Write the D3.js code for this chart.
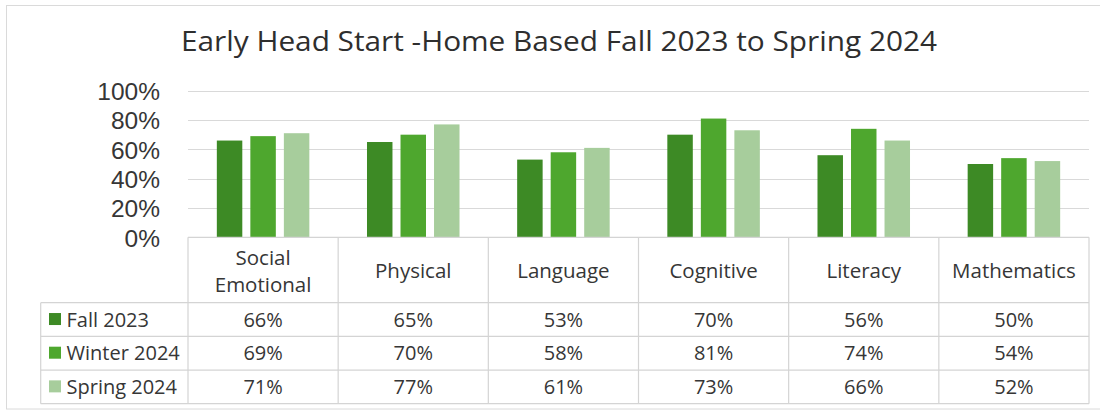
<!DOCTYPE html>
<html>
<head>
<meta charset="utf-8">
<script src="https://cdn.jsdelivr.net/npm/d3@7"></script>
<style>
  html, body { margin: 0; padding: 0; background: #ffffff; }
  svg { display: block; }
  text { font-family: "Open Sans", "Noto Sans", sans-serif; fill: #363636; }
</style>
</head>
<body>
<svg id="chart" width="1100" height="412"></svg>
<script>
const title = "Early Head Start -Home Based Fall 2023 to Spring 2024";
const categories = ["Social Emotional", "Physical", "Language", "Cognitive", "Literacy", "Mathematics"];
const categoryLines = [["Social", "Emotional"], ["Physical"], ["Language"], ["Cognitive"], ["Literacy"], ["Mathematics"]];
const seriesNames = ["Fall 2023", "Winter 2024", "Spring 2024"];
const fall2023 = [0.66, 0.65, 0.53, 0.70, 0.56, 0.50];
const winter2024 = [0.69, 0.70, 0.58, 0.81, 0.74, 0.54];
const spring2024 = [0.71, 0.77, 0.61, 0.73, 0.66, 0.52];
const yTicks = [0, 0.2, 0.4, 0.6, 0.8, 1.0];
const colors = ["#3d8a25", "#4ea72e", "#a7cd9c"];

const seriesValues = [fall2023, winter2024, spring2024];

const svg = d3.select("#chart");
const gridColor = "#d9d9d9";
const tableColor = "#d4d4d4";

// card border
svg.append("rect")
  .attr("x", 6.5).attr("y", 5.5)
  .attr("width", 1100).attr("height", 403.5)
  .attr("fill", "#fff").attr("stroke", "#dadada").attr("stroke-width", 1);

// title
svg.append("text")
  .attr("x", 181).attr("y", 50.5)
  .attr("text-anchor", "start")
  .attr("textLength", 756)
  .attr("lengthAdjust", "spacingAndGlyphs")
  .style("font-size", "26.5px")
  .style("fill", "#2e2e2e")
  .text(title);

const x0 = d3.scaleBand().domain(categories).range([188, 1089]).paddingInner(0).paddingOuter(0);
const x1 = d3.scaleBand().domain(seriesNames).range([0, x0.bandwidth()]).paddingInner(0.24).paddingOuter(0.86);
const y = d3.scaleLinear().domain([0, 1]).range([237.3, 90.7]);

// gridlines
svg.append("g")
  .selectAll("line")
  .data(yTicks.filter(t => t > 0))
  .join("line")
  .attr("x1", 188).attr("x2", 1089)
  .attr("y1", d => Math.round(y(d)) + 0.5).attr("y2", d => Math.round(y(d)) + 0.5)
  .attr("stroke", gridColor).attr("stroke-width", 1.2);

// y axis labels
const yAxis = d3.axisLeft(y).tickValues(yTicks).tickFormat(d3.format(".0%")).tickSize(0).tickPadding(0);
const yg = svg.append("g").attr("transform", "translate(160,0)").call(yAxis);
yg.select(".domain").remove();
yg.selectAll("text")
  .style("font-size", "24.5px")
  .style("fill", "#363636")
  .style("font-family", '"Liberation Sans", Arial, sans-serif')
  .attr("dy", "0.36em");

// bars
const groups = svg.append("g").selectAll("g")
  .data(categories)
  .join("g")
  .attr("transform", d => `translate(${x0(d)},0)`);

groups.selectAll("rect")
  .data((d, i) => seriesNames.map((s, j) => ({ s, v: seriesValues[j][i], j })))
  .join("rect")
  .attr("x", d => x1(d.s))
  .attr("width", x1.bandwidth())
  .attr("y", d => y(d.v))
  .attr("height", d => y(0) - y(d.v))
  .attr("fill", d => colors[d.j]);

// data table
const tableTop = y(0);
const headerBottom = 302.7;
const rowH = (403.7 - headerBottom) / 3;
const tableLeft = 40.7;
const tRight = 1089;

const tg = svg.append("g").attr("stroke", tableColor).attr("stroke-width", 1.2).attr("fill", "none");
tg.append("line").attr("x1", 188).attr("x2", tRight).attr("y1", tableTop).attr("y2", tableTop);
[0, 1, 2, 3].forEach(k => {
  const yy = headerBottom + k * rowH;
  tg.append("line").attr("x1", tableLeft).attr("x2", tRight).attr("y1", yy).attr("y2", yy);
});
categories.forEach(c => {
  tg.append("line").attr("x1", x0(c)).attr("x2", x0(c)).attr("y1", tableTop).attr("y2", headerBottom + 3 * rowH);
});
tg.append("line").attr("x1", tRight).attr("x2", tRight).attr("y1", tableTop).attr("y2", headerBottom + 3 * rowH);
tg.append("line").attr("x1", tableLeft).attr("x2", tableLeft).attr("y1", headerBottom).attr("y2", headerBottom + 3 * rowH);

// header labels
const hdr = svg.append("g");
categories.forEach((c, i) => {
  const lines = categoryLines[i];
  const cx = x0(c) + x0.bandwidth() / 2;
  const t = hdr.append("text").attr("text-anchor", "middle").style("font-size", "20.5px");
  if (lines.length === 1) {
    t.append("tspan").attr("x", cx).attr("y", 277.5).text(lines[0]);
  } else {
    t.append("tspan").attr("x", cx).attr("y", 265).text(lines[0]);
    t.append("tspan").attr("x", cx).attr("y", 291.5).text(lines[1]);
  }
});

// rows: legend keys and values
seriesNames.forEach((s, j) => {
  const cy = headerBottom + j * rowH + rowH / 2;
  svg.append("rect").attr("x", 49).attr("y", cy - 6.5).attr("width", 12).attr("height", 12).attr("fill", colors[j]);
  svg.append("text").attr("x", 66.5).attr("y", cy).attr("dy", "0.36em").style("font-size", "20px").text(s);
  categories.forEach((c, i) => {
    svg.append("text")
      .attr("x", x0(c) + x0.bandwidth() / 2)
      .attr("y", cy).attr("dy", "0.36em")
      .attr("text-anchor", "middle")
      .style("font-size", "20px")
      .text(d3.format(".0%")(seriesValues[j][i]));
  });
});
</script>
</body>
</html>
